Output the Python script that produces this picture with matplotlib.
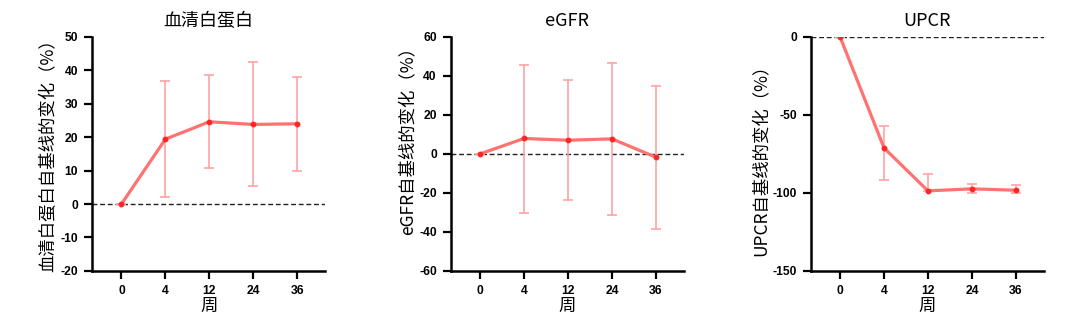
import numpy as np
from matplotlib import pyplot as plt

plt.rcParams['font.family'] = ['Noto Sans CJK SC', 'DejaVu Sans']
plt.rcParams['axes.unicode_minus'] = False

weeks = ['0', '4', '12', '24', '36']
titles = ['血清白蛋白', 'eGFR', 'UPCR']
ylabels = ['血清白蛋白自基线的变化（%）', 'eGFR自基线的变化（%）', 'UPCR自基线的变化（%）']

albumin_mean = [0, 19.4, 24.6, 23.8, 24.0]
albumin_lo = [0, 17.4, 13.9, 18.5, 14.0]
albumin_hi = [0, 17.5, 13.9, 18.6, 14.0]

egfr_mean = [0, 7.9, 7.0, 7.7, -1.7]
egfr_lo = [0, 38.0, 30.8, 39.0, 36.9]
egfr_hi = [0, 37.9, 30.8, 39.0, 36.4]

upcr_mean = [0, -71.2, -98.7, -97.4, -98.3]
upcr_lo = [0, 20.7, 0, 2.8, 1.5]
upcr_hi = [0, 14.2, 11.1, 3.2, 3.4]

means = [albumin_mean, egfr_mean, upcr_mean]
lows = [albumin_lo, egfr_lo, upcr_lo]
highs = [albumin_hi, egfr_hi, upcr_hi]
ylims = [(-20, 50), (-60, 60), (-150, 0)]
yticks = [np.arange(-20, 51, 10), np.arange(-60, 61, 20), np.arange(-150, 1, 50)]
lefts = [0.0852, 0.4173, 0.7506]
label_y = [0.51, 0.575, 0.49]

figure = plt.figure(figsize=(10.8, 3.32), dpi=100)

for k in range(3):
    axes = figure.add_axes([lefts[k], 0.184, 0.216, 0.705])
    x = np.arange(len(weeks))
    axes.axhline(0, color='#222222', linewidth=1.0, linestyle=(0, (3.5, 2)), zorder=1)
    axes.errorbar(x, means[k], yerr=[lows[k], highs[k]], fmt='none',
                  ecolor='#ffa3a3', elinewidth=1.2, capsize=3.5, capthick=1.2, zorder=2)
    axes.plot(x, means[k], color='#ff7272', linewidth=2.3, zorder=3)
    axes.plot(x, means[k], 'o', color='#ff2626', markersize=3.2, zorder=4)

    axes.set_xlim(-0.67, 4.64)
    axes.set_ylim(*ylims[k])
    axes.set_xticks(x)
    axes.set_xticklabels(weeks)
    axes.set_yticks(yticks[k])
    for lab in axes.get_xticklabels() + axes.get_yticklabels():
        lab.set_fontfamily('Liberation Sans')
        lab.set_fontweight('bold')
        lab.set_fontsize(8.7)

    for side in ['top', 'right']:
        axes.spines[side].set_visible(False)
    for side in ['left', 'bottom']:
        axes.spines[side].set_linewidth(1.8)
    axes.tick_params(width=1.6, length=6, pad=4)

    axes.set_title(titles[k], fontsize=13, pad=8)
    axes.set_ylabel(ylabels[k], fontsize=12.5, labelpad=2)
    axes.yaxis.label.set_y(label_y[k])
    axes.set_xlabel('周', fontsize=12.5, labelpad=0)

figure.savefig('out.png', dpi=100)
